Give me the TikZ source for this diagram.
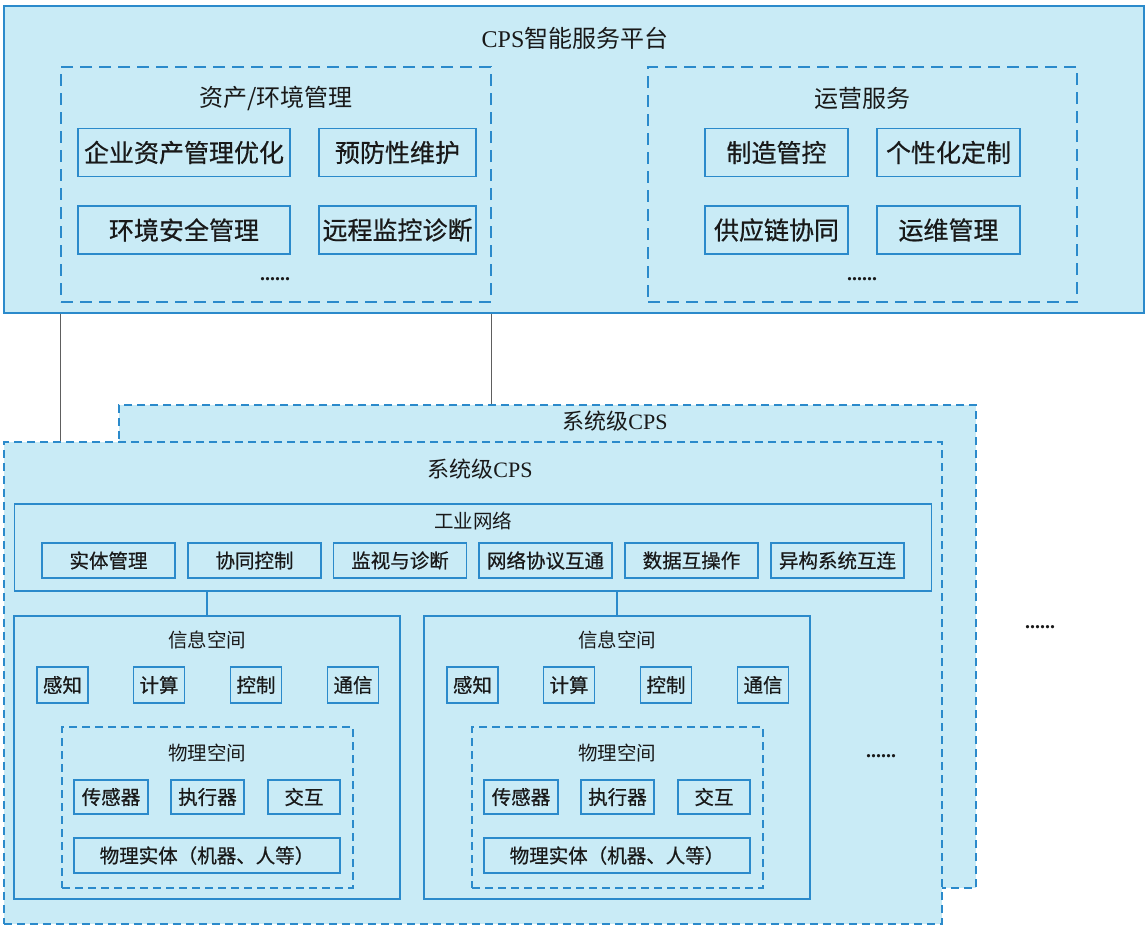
\documentclass[tikz,border=0pt]{standalone}
\usepackage{fontspec}
\setmainfont{Liberation Serif}
\newfontfamily\cjk{Noto Sans CJK SC}
\newfontfamily\cjkb{Noto Sans CJK SC}[FakeBold=0.6]
\newcommand{\lat}[1]{{\rmfamily #1}}
\definecolor{boxfill}{RGB}{201,235,246}
\definecolor{boxline}{RGB}{43,138,203}
\definecolor{txt}{RGB}{25,25,25}
\begin{document}
\begin{tikzpicture}[x=1pt,y=-1pt,
  every node/.style={text=txt},
  frame/.style={draw=boxline,fill=boxfill,line width=1.4pt,inner sep=0pt},
  bigdash/.style={draw=boxline,line width=1.3pt,dash pattern=on 12pt off 7pt,inner sep=0pt},
  smalldash/.style={draw=boxline,line width=1.2pt,dash pattern=on 8pt off 5pt,inner sep=0pt},
  sysbox/.style={draw=boxline,fill=boxfill,line width=1.2pt,dash pattern=on 8pt off 5pt,inner sep=0pt},
  topitem/.style={draw=boxline,fill=boxfill,line width=1.3pt,inner sep=0pt,minimum height=48pt,font=\cjkb\fontsize{25}{29}\selectfont},
  lowitem/.style={draw=boxline,fill=boxfill,line width=1.2pt,inner sep=0pt,font=\cjkb\fontsize{19.5}{23}\selectfont},
  bigtitle/.style={inner sep=0pt,font=\cjk\fontsize{24}{28}\selectfont},
  midtitle/.style={inner sep=0pt,font=\cjk\fontsize{22}{26}\selectfont},
  smalltitle/.style={inner sep=0pt,font=\cjk\fontsize{19.5}{23}\selectfont},
  dots/.style={inner sep=0pt,font=\bfseries\fontsize{20}{24}\selectfont},
  link/.style={draw=txt!70,line width=1pt}
]
\useasboundingbox (0,0) rectangle (1146,927);

% ---------- service platform ----------
\node[frame,minimum width=1140pt,minimum height=307pt] (plat) at (574,159.5) {};
\node[bigtitle] (platT) at (575,38) {\lat{CPS}智能服务平台};

\node[bigdash,minimum width=430pt,minimum height=235pt] (asset) at (276,184.5) {};
\node[bigtitle] (assetT) at (276,98) {资产/环境管理};
\node[topitem,minimum width=212pt] (a1) at (184,152.5) {企业资产管理优化};
\node[topitem,minimum width=157pt] (a2) at (397.5,152.5) {预防性维护};
\node[topitem,minimum width=212pt] (a3) at (184,230) {环境安全管理};
\node[topitem,minimum width=157pt] (a4) at (397.5,230) {远程监控诊断};
\node[dots] (adots) at (275,279) {......};

\node[bigdash,minimum width=429pt,minimum height=235pt] (oper) at (862.5,184.5) {};
\node[bigtitle] (operT) at (862,98) {运营服务};
\node[topitem,minimum width=143pt] (o1) at (776.5,152.5) {制造管控};
\node[topitem,minimum width=143pt] (o2) at (948.5,152.5) {个性化定制};
\node[topitem,minimum width=143pt] (o3) at (776.5,230) {供应链协同};
\node[topitem,minimum width=143pt] (o4) at (948.5,230) {运维管理};
\node[dots] (odots) at (862,279) {......};

% ---------- system-level CPS (stacked) ----------
\node[sysbox,minimum width=857pt,minimum height=483pt] (back) at (547.5,646.5) {};
\node[midtitle] (backT) at (615,421) {系统级\lat{CPS}};
\node[sysbox,minimum width=938pt,minimum height=482pt] (front) at (473,683) {};
\node[midtitle] (frontT) at (480,469) {系统级\lat{CPS}};

% links from the platform down to the system layer
\draw[link] (asset.south west |- plat.south) -- (asset.south west |- front.north);
\draw[link] (asset.south east |- plat.south) -- (asset.south east |- back.north);

% industrial network
\node[frame,line width=1.2pt,minimum width=917pt,minimum height=87pt] (net) at (473,547.5) {};
\node[smalltitle] (netT) at (473,521) {工业网络};
\foreach \name/\cx/\lbl in {n1/108.5/实体管理, n2/254.5/协同控制, n3/400/监视与诊断,
                            n4/545.5/网络协议互通, n5/691.5/数据互操作, n6/837.5/异构系统互连}
  \node[lowitem,minimum width=133pt,minimum height=35pt] (\name) at (\cx,560.5) {\lbl};

% two cyber/physical units
\foreach \u/\dx in {L/0, R/410} {
  \node[frame,line width=1.2pt,minimum width=386pt,minimum height=283pt] (info\u) at (207+\dx,757.5) {};
  \node[smalltitle] (infoT\u) at (207+\dx,640) {信息空间};
  \foreach \k/\cx/\lbl in {1/62.5/感知, 2/159/计算, 3/256/控制, 4/353/通信}
    \node[lowitem,minimum width=51pt,minimum height=36pt] (c\u\k) at (\cx+\dx,685) {\lbl};
  \node[smalldash,minimum width=291pt,minimum height=161pt] (phys\u) at (207.5+\dx,807.5) {};
  \node[smalltitle] (physT\u) at (207+\dx,753) {物理空间};
  \node[lowitem,minimum width=74pt,minimum height=34pt] (p\u1) at (111+\dx,797) {传感器};
  \node[lowitem,minimum width=73pt,minimum height=34pt] (p\u2) at (207.5+\dx,797) {执行器};
  \node[lowitem,minimum width=72pt,minimum height=34pt] (p\u3) at (304+\dx,797) {交互};
  \node[lowitem,minimum width=266pt,minimum height=35pt] (p\u4) at (207+\dx,855.5) {物理实体（机器、人等）};
  \draw[link,draw=boxline,line width=1.2pt] (info\u.north |- net.south) -- (info\u.north);
}

\node[dots] (udots) at (881,756) {......};
\node[dots] (sdots) at (1040,627) {......};
\end{tikzpicture}
\end{document}
